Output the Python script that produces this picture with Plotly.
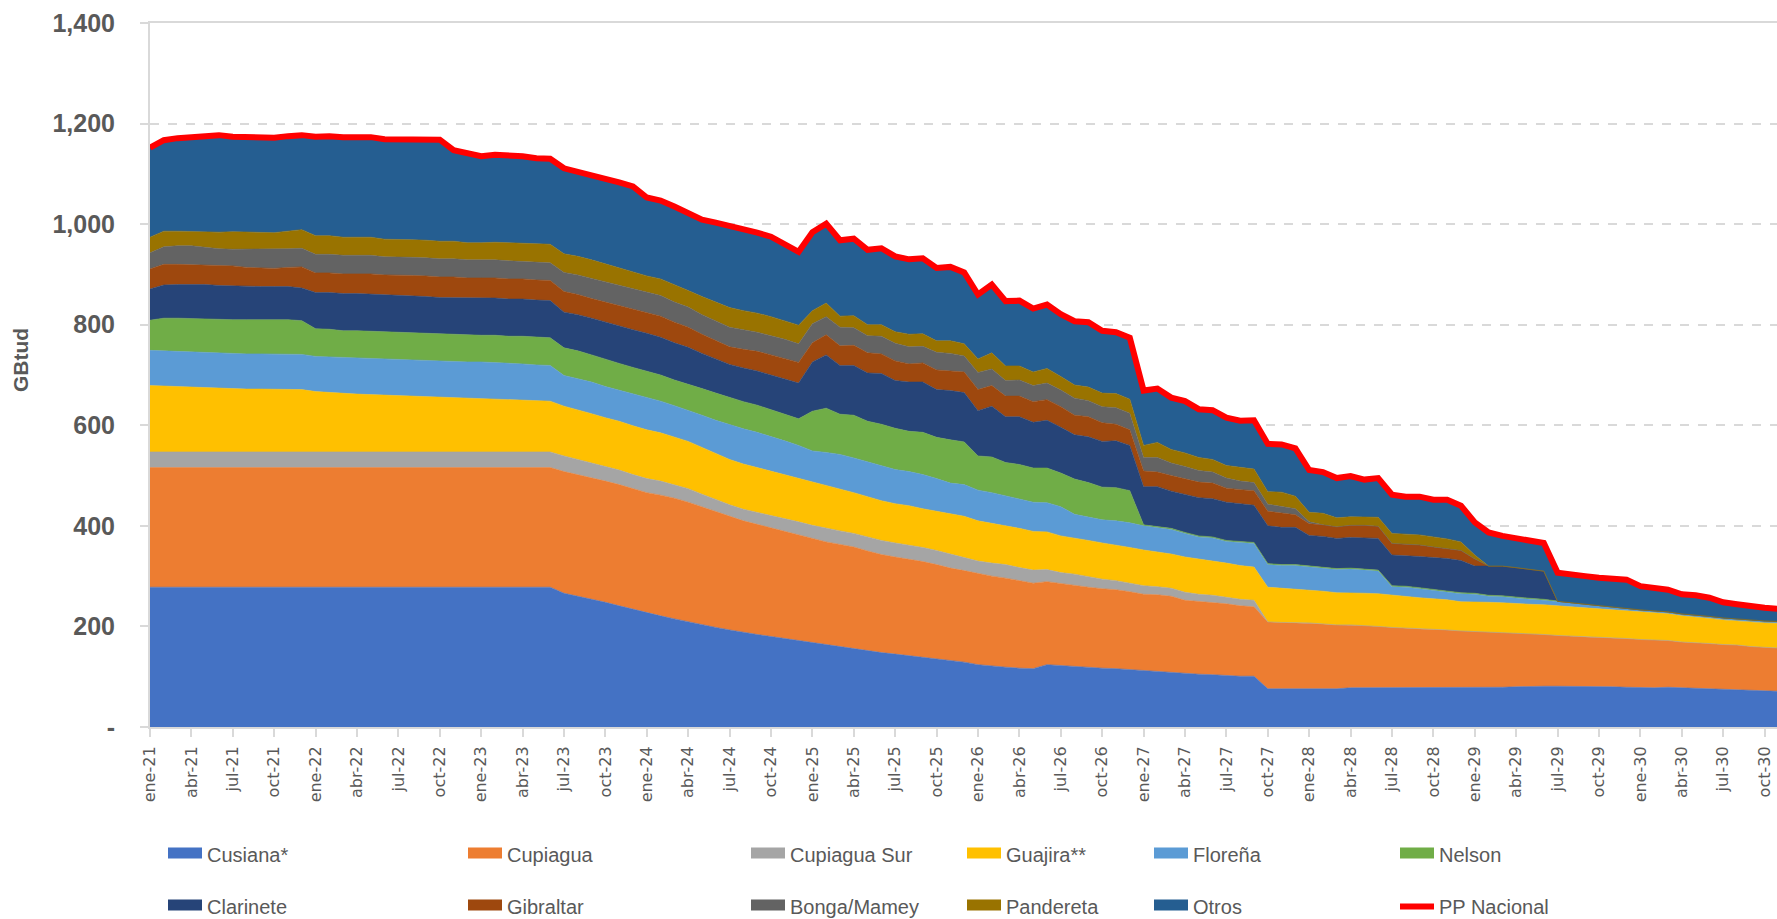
import plotly.graph_objects as go

# ---------------- categories ----------------
MONTH_ABBR = ["ene", "feb", "mar", "abr", "may", "jun", "jul", "ago", "sep", "oct", "nov", "dic"]
YEARS = list(range(21, 31))
months = [f"{mo}-{yy}" for yy in YEARS for mo in MONTH_ABBR][:119]   # ene-21 .. nov-30
tick_labels = months[::3]                                             # ene / abr / jul / oct

# ---------------- series (GBtud), one value per month ----------------
cusiana = [
    278, 278, 278, 278, 278, 278, 278, 278, 278, 278, 278, 278,
    278, 278, 278, 278, 278, 278, 278, 278, 278, 278, 278, 278,
    278, 278, 278, 278, 278, 278, 266, 260, 255, 248, 241, 234,
    227, 221, 215, 209, 203, 198, 193, 188, 184, 180, 176, 172,
    167, 163, 159, 155, 151, 148, 145, 142, 139, 136, 132, 129,
    124, 121, 119, 117, 116, 124, 122, 120, 118, 117, 116, 114,
    112, 111, 108, 106, 105, 104, 102, 101, 101, 76, 76, 76,
    76, 76, 76, 78, 78, 78, 78, 78, 78, 78, 78, 78,
    78, 78, 79, 80, 81, 81, 81, 81, 81, 81, 80, 79,
    78, 78, 79, 78, 77, 75, 74, 73, 72, 71, 71,
]
cupiagua = [
    238, 238, 238, 238, 238, 238, 238, 238, 238, 238, 238, 238,
    238, 238, 238, 238, 238, 238, 238, 238, 238, 238, 238, 238,
    238, 238, 238, 238, 238, 238, 242, 242, 241, 241, 241, 240,
    239, 240, 240, 238, 235, 230, 226, 222, 219, 216, 212, 209,
    207, 205, 204, 203, 199, 195, 193, 192, 190, 187, 184, 182,
    181, 179, 177, 174, 170, 165, 163, 162, 160, 158, 157, 155,
    152, 152, 152, 146, 145, 144, 143, 140, 138, 133, 132, 132,
    131, 129, 127, 125, 124, 122, 120, 119, 117, 116, 115, 113,
    112, 111, 109, 107, 105, 103, 101, 100, 98, 97, 97, 97,
    96, 95, 93, 91, 91, 91, 90, 90, 88, 87, 86,
]
cupiagua_sur = [
    31, 31, 31, 31, 31, 31, 31, 31, 31, 31, 31, 31,
    31, 31, 31, 31, 31, 31, 31, 31, 31, 31, 31, 31,
    31, 31, 31, 31, 31, 31, 31, 30, 29, 29, 29, 28,
    28, 28, 27, 27, 25, 24, 23, 23, 24, 24, 26, 27,
    27, 27, 27, 27, 28, 28, 28, 28, 28, 28, 28, 27,
    25, 26, 27, 26, 26, 24, 22, 22, 21, 19, 18, 17,
    17, 16, 16, 16, 14, 14, 13, 13, 13, 0, 0, 0,
    0, 0, 0, 0, 0, 0, 0, 0, 0, 0, 0, 0,
    0, 0, 0, 0, 0, 0, 0, 0, 0, 0, 0, 0,
    0, 0, 0, 0, 0, 0, 0, 0, 0, 0, 0,
]
guajira = [
    132, 131, 130, 129, 128, 126, 125, 125, 125, 125, 125, 124,
    120, 118, 116, 115, 114, 113, 112, 111, 110, 109, 108, 107,
    106, 105, 104, 103, 102, 101, 99, 99, 98, 97, 97, 97,
    97, 96, 95, 94, 93, 92, 90, 90, 89, 88, 87, 86,
    86, 86, 84, 81, 80, 79, 78, 78, 77, 78, 80, 81,
    80, 79, 78, 78, 77, 75, 73, 72, 72, 72, 71, 71,
    71, 69, 68, 70, 70, 69, 68, 67, 66, 69, 68, 67,
    65, 65, 64, 64, 64, 65, 64, 63, 62, 61, 60, 58,
    59, 59, 59, 58, 58, 59, 59, 58, 57, 56, 56, 55,
    55, 54, 53, 52, 51, 50, 49, 48, 48, 49, 49,
]
florena = [
    70, 70, 70, 70, 70, 70, 70, 70, 70, 70, 70, 70,
    70, 71, 71, 72, 72, 72, 72, 72, 72, 71, 72, 72,
    73, 73, 72, 72, 71, 71, 61, 62, 63, 62, 62, 63,
    64, 63, 62, 62, 64, 66, 69, 70, 70, 70, 68, 66,
    62, 65, 68, 69, 69, 69, 68, 68, 68, 65, 61, 63,
    61, 61, 59, 59, 58, 58, 58, 47, 46, 46, 48, 49,
    48, 49, 49, 47, 44, 45, 43, 46, 47, 45, 45, 46,
    46, 46, 46, 47, 46, 45, 17, 18, 18, 17, 16, 16,
    15, 12, 12, 11, 10, 9, 8, 7, 7, 6, 5, 5,
    4, 4, 4, 4, 4, 4, 4, 4, 4, 4, 4,
]
nelson = [
    60, 65, 66, 66, 67, 68, 68, 68, 68, 68, 68, 67,
    55, 55, 54, 54, 54, 54, 54, 54, 54, 54, 54, 53,
    53, 54, 54, 55, 55, 55, 55, 55, 54, 54, 53, 53,
    52, 52, 51, 52, 53, 54, 54, 54, 54, 53, 53, 53,
    79, 88, 80, 85, 81, 83, 82, 80, 84, 82, 86, 85,
    68, 71, 66, 68, 68, 69, 67, 70, 69, 65, 66, 64,
    2, 2, 2, 2, 2, 2, 2, 2, 2, 2, 2, 2,
    2, 2, 2, 2, 2, 2, 2, 2, 2, 2, 2, 2,
    2, 2, 2, 2, 2, 2, 1, 1, 1, 1, 0, 0,
    0, 0, 0, 0, 0, 0, 0, 0, 0, 0, 0,
]
clarinete = [
    62, 66, 67, 68, 68, 67, 67, 66, 66, 66, 66, 65,
    72, 73, 74, 74, 74, 73, 73, 73, 73, 73, 73, 74,
    74, 74, 74, 74, 74, 74, 71, 72, 73, 74, 74, 75,
    76, 75, 74, 73, 70, 68, 66, 67, 68, 69, 70, 71,
    98, 106, 97, 99, 96, 101, 95, 98, 100, 95, 98, 98,
    90, 101, 91, 95, 91, 95, 91, 88, 91, 91, 93, 90,
    76, 79, 74, 76, 76, 76, 76, 75, 74, 75, 74, 74,
    61, 61, 60, 61, 62, 63, 61, 61, 62, 63, 64, 64,
    54, 58, 59, 59, 58, 56, 0, 0, 0, 0, 0, 0,
    0, 0, 0, 0, 0, 0, 0, 0, 0, 0, 0,
]
gibraltar = [
    40, 41, 40, 39, 39, 40, 40, 38, 37, 36, 38, 42,
    39, 39, 39, 39, 40, 40, 41, 41, 41, 41, 41, 40,
    40, 40, 40, 40, 40, 40, 41, 40, 39, 40, 41, 41,
    41, 42, 41, 40, 38, 36, 35, 37, 39, 40, 41, 41,
    38, 40, 39, 40, 40, 39, 39, 36, 38, 39, 39, 41,
    42, 41, 41, 41, 41, 41, 41, 39, 40, 37, 33, 31,
    31, 29, 31, 31, 31, 31, 28, 28, 29, 29, 29, 25,
    23, 23, 23, 24, 25, 24, 23, 23, 23, 21, 19, 20,
    14, 0, 0, 0, 0, 0, 0, 0, 0, 0, 0, 0,
    0, 0, 0, 0, 0, 0, 0, 0, 0, 0, 0,
]
bonga_mamey = [
    32, 35, 37, 38, 35, 33, 33, 36, 38, 38, 37, 37,
    37, 37, 37, 37, 37, 36, 36, 36, 36, 36, 36, 36,
    36, 36, 36, 35, 35, 35, 38, 39, 40, 40, 41, 41,
    41, 41, 40, 40, 39, 39, 39, 39, 38, 38, 38, 37,
    38, 36, 37, 35, 34, 35, 35, 34, 33, 35, 35, 32,
    34, 33, 31, 32, 32, 33, 33, 34, 32, 32, 33, 33,
    27, 29, 25, 24, 23, 22, 20, 17, 16, 14, 12, 12,
    4, 0, 0, 0, 0, 0, 0, 0, 0, 0, 0, 0,
    0, 0, 0, 0, 0, 0, 0, 0, 0, 0, 0, 0,
    0, 0, 0, 0, 0, 0, 0, 0, 0, 0, 0,
]
pandereta = [
    31, 31, 29, 28, 30, 33, 35, 34, 33, 33, 35, 37,
    37, 37, 36, 36, 36, 35, 35, 35, 35, 35, 35, 34,
    34, 35, 36, 36, 37, 37, 37, 37, 37, 36, 35, 34,
    32, 33, 35, 33, 36, 38, 39, 38, 38, 38, 37, 37,
    26, 27, 22, 24, 22, 23, 23, 25, 25, 23, 25, 24,
    27, 32, 29, 28, 27, 29, 27, 26, 27, 27, 28, 28,
    24, 30, 27, 27, 26, 25, 25, 27, 27, 25, 29, 25,
    19, 23, 18, 17, 17, 18, 20, 20, 20, 20, 20, 17,
    8, 0, 0, 0, 0, 0, 0, 0, 0, 0, 0, 0,
    0, 0, 0, 0, 0, 0, 0, 0, 0, 0, 0,
]
otros = [
    178, 181, 185, 188, 191, 193, 189, 189, 189, 189, 189, 188,
    197, 198, 199, 199, 199, 199, 199, 199, 200, 202, 181, 178,
    172, 174, 174, 173, 170, 170, 170, 169, 168, 169, 169, 169,
    156, 156, 155, 155, 153, 158, 163, 161, 160, 159, 152, 146,
    156, 158, 151, 153, 149, 152, 150, 149, 150, 145, 147, 142,
    128, 136, 129, 130, 126, 127, 124, 127, 129, 124, 122, 122,
    109, 107, 103, 103, 96, 98, 95, 93, 97, 95, 95, 95,
    84, 82, 79, 81, 74, 78, 77, 74, 76, 74, 78, 72,
    65, 67, 60, 58, 58, 56, 57, 55, 56, 56, 56, 57,
    47, 46, 44, 39, 39, 37, 31, 29, 27, 26, 25,
]

series_names = ["Cusiana*", "Cupiagua", "Cupiagua Sur", "Guajira**", "Floreña", "Nelson",
                "Clarinete", "Gibraltar", "Bonga/Mamey", "Pandereta", "Otros"]
series_values = [cusiana, cupiagua, cupiagua_sur, guajira, florena, nelson,
                 clarinete, gibraltar, bonga_mamey, pandereta, otros]
total_name = "PP Nacional"
y_title = "GBtud"
# national total = sum of all fields
pp_nacional = [sum(v) for v in zip(*series_values)]

# ---------------- styles ----------------
colors = ["#4472C4", "#ED7D31", "#A5A5A5", "#FFC000", "#5B9BD5", "#70AD47",
          "#264478", "#9E480E", "#636363", "#997300", "#255E91"]
TEXT = "#595959"
AXIS = "#D9D9D9"
LEG_FONT = "Liberation Sans, Arial, sans-serif"
legend_ids = ["legend", "legend2", "legend3", "legend4", "legend5", "legend6"]

fig = go.Figure()

# stacked areas
for name, vals, col in zip(series_names, series_values, colors):
    fig.add_trace(go.Scatter(
        x=months, y=vals, name=name, stackgroup="one", mode="lines",
        line=dict(width=0.6, color=col), fillcolor=col,
        showlegend=False, hovertemplate="%{x}: %{y}<extra>" + name + "</extra>",
    ))

# legend swatches (no data, legend only)
for i, (name, col) in enumerate(zip(series_names, colors)):
    fig.add_trace(go.Scatter(
        x=[None], y=[None], name=name, mode="lines", fill="toself",
        fillcolor=col, line=dict(width=10, color=col),
        legend=legend_ids[i % 6], legendgroup=name, hoverinfo="skip",
    ))

# national total line
fig.add_trace(go.Scatter(
    x=months, y=pp_nacional, name=total_name, mode="lines",
    line=dict(color="#FF0000", width=6),
    legend=legend_ids[11 % 6], legendgroup=total_name,
))

W, H = 1777, 919
ML, MR, MT, MB = 150, 0, 23, 192
plot_w = W - ML - MR
plot_h = H - MT - MB
month_px = 13.8

leg_cols_px = [163, 463, 746, 962, 1149, 1395]
leg_top_px = 835
leg_common = dict(
    orientation="v", traceorder="grouped", tracegroupgap=23, itemwidth=34,
    font=dict(family=LEG_FONT, size=20, color=TEXT),
    bgcolor="rgba(0,0,0,0)", borderwidth=0,
    xanchor="left", yanchor="top",
    y=-(leg_top_px - (MT + plot_h)) / plot_h,
    itemclick=False, itemdoubleclick=False,
)
legend_layout = {}
for lid, px in zip(legend_ids, leg_cols_px):
    legend_layout[lid] = dict(leg_common, x=(px - ML) / plot_w)

fig.update_layout(
    width=W, height=H,
    margin=dict(l=ML, r=MR, t=MT, b=MB, pad=0, autoexpand=False),
    paper_bgcolor="white", plot_bgcolor="white",
    showlegend=True,
    **legend_layout,
)

# y-axis title (placed slightly above the plot centre, as in the reference)
fig.add_annotation(
    text=y_title, textangle=-90, showarrow=False,
    xref="paper", yref="paper",
    x=(21 - ML) / plot_w, y=((MT + plot_h) - 360) / plot_h,
    xanchor="center", yanchor="middle",
    font=dict(family="Liberation Sans, Arial, sans-serif", size=21, color=TEXT, weight="bold"),
)

fig.update_xaxes(
    type="category",
    range=[0, plot_w / month_px],
    tickmode="array", tickvals=tick_labels, ticktext=tick_labels,
    tickangle=-90,
    tickfont=dict(family="DejaVu Sans", size=16, color=TEXT),
    ticks="outside", ticklen=8, tickwidth=2, tickcolor=AXIS,
    ticklabelstandoff=3,
    showline=True, linecolor=AXIS, linewidth=2, mirror=True,
    showgrid=False, zeroline=False,
)
fig.update_yaxes(
    range=[0, 1400],
    tickmode="array",
    tickvals=[0, 200, 400, 600, 800, 1000, 1200, 1400],
    ticktext=["-", "200", "400", "600", "800", "1,000", "1,200", "1,400"],
    tickfont=dict(family="Liberation Sans, Arial, sans-serif", size=25, color=TEXT, weight="bold"),
    ticks="outside", ticklen=8, tickwidth=2, tickcolor=AXIS,
    ticklabelstandoff=20,
    showline=True, linecolor=AXIS, linewidth=2,
    showgrid=True, gridcolor=AXIS, gridwidth=1.5, griddash="dash",
    zeroline=False,
)

post = "document.body.style.margin='0';document.body.style.overflow='hidden';"
fig.write_html("out.html", config={"displayModeBar": False}, post_script=post)
